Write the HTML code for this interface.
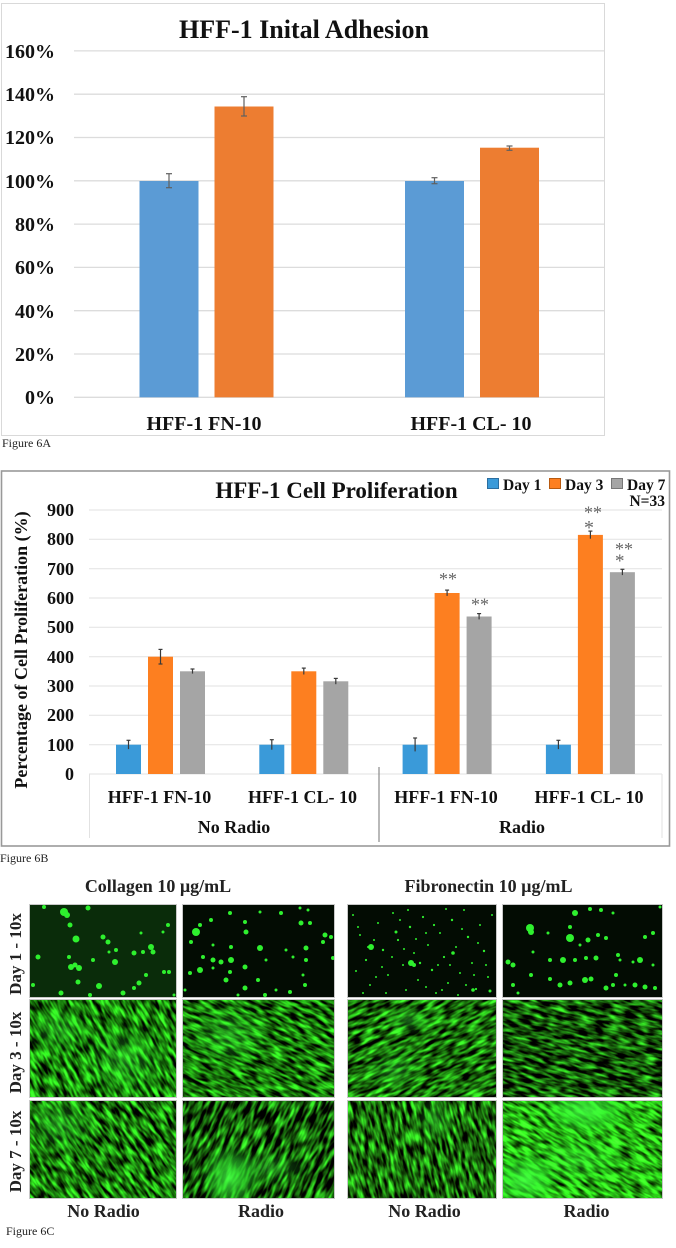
<!DOCTYPE html>
<html><head><meta charset="utf-8">
<style>
html,body{margin:0;padding:0;background:#fff;}
svg{display:block;}
text{font-family:"Liberation Serif",serif;}
.b{font-weight:bold;}
</style></head>
<body>
<svg width="676" height="1248" viewBox="0 0 676 1248" xmlns="http://www.w3.org/2000/svg">
<defs>
<filter id="f1" x="0" y="0" width="1" height="1" color-interpolation-filters="sRGB">
<feTurbulence type="fractalNoise" baseFrequency="0.07 0.26" numOctaves="2" seed="3"/>
<feColorMatrix type="matrix" values="0.5 0 0 0 -0.15  2.2 0 0 0 -0.6  0.4 0 0 0 -0.15  0 0 0 0 1"/>
</filter>
<filter id="f2" x="0" y="0" width="1" height="1" color-interpolation-filters="sRGB">
<feTurbulence type="fractalNoise" baseFrequency="0.07 0.26" numOctaves="2" seed="7"/>
<feColorMatrix type="matrix" values="0.5 0 0 0 -0.15  2.2 0 0 0 -0.63  0.4 0 0 0 -0.15  0 0 0 0 1"/>
</filter>
<filter id="f3" x="0" y="0" width="1" height="1" color-interpolation-filters="sRGB">
<feTurbulence type="fractalNoise" baseFrequency="0.07 0.24" numOctaves="2" seed="11"/>
<feColorMatrix type="matrix" values="0.5 0 0 0 -0.15  2.2 0 0 0 -0.67  0.4 0 0 0 -0.15  0 0 0 0 1"/>
</filter>
<filter id="f4" x="0" y="0" width="1" height="1" color-interpolation-filters="sRGB">
<feTurbulence type="fractalNoise" baseFrequency="0.07 0.26" numOctaves="2" seed="19"/>
<feColorMatrix type="matrix" values="0.5 0 0 0 -0.17  2.2 0 0 0 -0.77  0.4 0 0 0 -0.16  0 0 0 0 1"/>
</filter>
<filter id="f5" x="0" y="0" width="1" height="1" color-interpolation-filters="sRGB">
<feTurbulence type="fractalNoise" baseFrequency="0.07 0.26" numOctaves="2" seed="13"/>
<feColorMatrix type="matrix" values="0.5 0 0 0 -0.15  2.2 0 0 0 -0.63  0.4 0 0 0 -0.15  0 0 0 0 1"/>
</filter>
<filter id="f6" x="0" y="0" width="1" height="1" color-interpolation-filters="sRGB">
<feTurbulence type="fractalNoise" baseFrequency="0.06 0.24" numOctaves="2" seed="23"/>
<feColorMatrix type="matrix" values="0.5 0 0 0 -0.17  2.2 0 0 0 -0.76  0.4 0 0 0 -0.16  0 0 0 0 1"/>
</filter>
<filter id="f7" x="0" y="0" width="1" height="1" color-interpolation-filters="sRGB">
<feTurbulence type="fractalNoise" baseFrequency="0.07 0.26" numOctaves="2" seed="29"/>
<feColorMatrix type="matrix" values="0.5 0 0 0 -0.15  2.2 0 0 0 -0.69  0.4 0 0 0 -0.15  0 0 0 0 1"/>
</filter>
<filter id="f8" x="0" y="0" width="1" height="1" color-interpolation-filters="sRGB">
<feTurbulence type="fractalNoise" baseFrequency="0.07 0.26" numOctaves="2" seed="31"/>
<feColorMatrix type="matrix" values="0.5 0 0 0 -0.1  2.2 0 0 0 -0.4  0.4 0 0 0 -0.12  0 0 0 0 1"/>
</filter>
<radialGradient id="glow">
<stop offset="0" stop-color="#44ff44" stop-opacity="0.85"/>
<stop offset="0.6" stop-color="#33ee33" stop-opacity="0.45"/>
<stop offset="1" stop-color="#22cc22" stop-opacity="0"/>
</radialGradient>
<radialGradient id="glowS">
<stop offset="0" stop-color="#44ff44" stop-opacity="0.4"/>
<stop offset="1" stop-color="#22cc22" stop-opacity="0"/>
</radialGradient>
<clipPath id="c21"><rect x="30" y="1000" width="146" height="97"/></clipPath>
<clipPath id="c22"><rect x="183" y="1000" width="151" height="97"/></clipPath>
<clipPath id="c23"><rect x="348" y="1000" width="148" height="97"/></clipPath>
<clipPath id="c24"><rect x="503" y="1000" width="159" height="97"/></clipPath>
<clipPath id="c31"><rect x="30" y="1101" width="146" height="97"/></clipPath>
<clipPath id="c32"><rect x="183" y="1101" width="151" height="97"/></clipPath>
<clipPath id="c33"><rect x="348" y="1101" width="148" height="97"/></clipPath>
<clipPath id="c34"><rect x="503" y="1101" width="159" height="97"/></clipPath>
</defs>

<!-- ================= Figure 6A ================= -->
<rect x="1.5" y="3.5" width="603" height="432" fill="#fff" stroke="#d9d9d9" stroke-width="1"/>
<text x="304" y="38" text-anchor="middle" class="b" font-size="26" fill="#111">HFF-1 Inital Adhesion</text>
<g stroke="#dcdcdc" stroke-width="1.3">
<line x1="74" y1="50.9" x2="604" y2="50.9"/>
<line x1="74" y1="94.2" x2="604" y2="94.2"/>
<line x1="74" y1="137.5" x2="604" y2="137.5"/>
<line x1="74" y1="180.8" x2="604" y2="180.8"/>
<line x1="74" y1="224.1" x2="604" y2="224.1"/>
<line x1="74" y1="267.4" x2="604" y2="267.4"/>
<line x1="74" y1="310.7" x2="604" y2="310.7"/>
<line x1="74" y1="354" x2="604" y2="354"/>
<line x1="74" y1="397.3" x2="604" y2="397.3"/>
</g>
<g class="b" font-size="20" text-anchor="end" fill="#111">
<text x="55" y="58">160%</text>
<text x="55" y="101">140%</text>
<text x="55" y="144">120%</text>
<text x="55" y="188">100%</text>
<text x="55" y="231">80%</text>
<text x="55" y="274">60%</text>
<text x="55" y="318">40%</text>
<text x="55" y="361">20%</text>
<text x="55" y="404">0%</text>
</g>
<rect x="139.5" y="181" width="59" height="216.3" fill="#5b9bd5"/>
<rect x="214.5" y="106.5" width="59" height="290.8" fill="#ed7d31"/>
<rect x="405" y="181" width="59" height="216.3" fill="#5b9bd5"/>
<rect x="480" y="147.7" width="59" height="249.6" fill="#ed7d31"/>
<g stroke="#606060" stroke-width="1.2">
<line x1="169" y1="173.7" x2="169" y2="187.7"/><line x1="166" y1="173.7" x2="172" y2="173.7"/><line x1="166" y1="187.7" x2="172" y2="187.7"/>
<line x1="244" y1="96.7" x2="244" y2="116"/><line x1="241" y1="96.7" x2="247" y2="96.7"/><line x1="241" y1="116" x2="247" y2="116"/>
<line x1="434.5" y1="177.7" x2="434.5" y2="183.7"/><line x1="431.5" y1="177.7" x2="437.5" y2="177.7"/><line x1="431.5" y1="183.7" x2="437.5" y2="183.7"/>
<line x1="509.5" y1="146" x2="509.5" y2="150.3"/><line x1="506.5" y1="146" x2="512.5" y2="146"/><line x1="506.5" y1="150.3" x2="512.5" y2="150.3"/>
</g>
<g class="b" font-size="20" text-anchor="middle" fill="#111">
<text x="204" y="430">HFF-1 FN-10</text>
<text x="471" y="430">HFF-1 CL- 10</text>
</g>
<text x="2" y="447" font-size="12" fill="#222">Figure 6A</text>

<!-- ================= Figure 6B ================= -->
<rect x="1.5" y="471" width="668" height="375" fill="#fff" stroke="#999" stroke-width="1.6"/>
<text x="336.5" y="498" text-anchor="middle" class="b" font-size="23" fill="#111">HFF-1 Cell Proliferation</text>
<rect x="487.5" y="478.5" width="11" height="10" fill="#3a9ad9" stroke="#2b6ea0" stroke-width="1"/>
<text x="503" y="490" class="b" font-size="15.5" fill="#111">Day 1</text>
<rect x="549.5" y="478.5" width="11" height="10" fill="#fd7f20" stroke="#b85a10" stroke-width="1"/>
<text x="565" y="490" class="b" font-size="15.5" fill="#111">Day 3</text>
<rect x="611.5" y="478.5" width="11" height="10" fill="#a5a5a5" stroke="#777" stroke-width="1"/>
<text x="627" y="490" class="b" font-size="15.5" fill="#111">Day 7</text>
<text x="665" y="506" text-anchor="end" class="b" font-size="15.5" fill="#111">N=33</text>
<g stroke="#e2e2e2" stroke-width="1">
<line x1="89" y1="510" x2="662" y2="510"/>
<line x1="89" y1="539.3" x2="662" y2="539.3"/>
<line x1="89" y1="568.7" x2="662" y2="568.7"/>
<line x1="89" y1="598" x2="662" y2="598"/>
<line x1="89" y1="627.3" x2="662" y2="627.3"/>
<line x1="89" y1="656.7" x2="662" y2="656.7"/>
<line x1="89" y1="686" x2="662" y2="686"/>
<line x1="89" y1="715.3" x2="662" y2="715.3"/>
<line x1="89" y1="744.7" x2="662" y2="744.7"/>
<line x1="89" y1="774" x2="662" y2="774"/>
<line x1="89.5" y1="774" x2="89.5" y2="838"/>
<line x1="662" y1="774" x2="662" y2="838"/>
</g>
<line x1="379" y1="767" x2="379" y2="842" stroke="#8a8a8a" stroke-width="1.2"/>
<g class="b" font-size="18" text-anchor="end" fill="#111">
<text x="74" y="516">900</text>
<text x="74" y="545">800</text>
<text x="74" y="575">700</text>
<text x="74" y="604">600</text>
<text x="74" y="633">500</text>
<text x="74" y="663">400</text>
<text x="74" y="692">300</text>
<text x="74" y="721">200</text>
<text x="74" y="751">100</text>
<text x="74" y="780">0</text>
</g>
<text transform="translate(27,650) rotate(-90)" text-anchor="middle" class="b" font-size="18" fill="#111">Percentage of Cell Proliferation (%)</text>
<g fill="#3a9ad9">
<rect x="116" y="744.7" width="25" height="29.3"/>
<rect x="259.3" y="744.7" width="25" height="29.3"/>
<rect x="402.6" y="744.7" width="25" height="29.3"/>
<rect x="545.9" y="744.7" width="25" height="29.3"/>
</g>
<g fill="#fd7f20">
<rect x="148" y="656.7" width="25" height="117.3"/>
<rect x="291.3" y="671.3" width="25" height="102.7"/>
<rect x="434.6" y="593" width="25" height="181"/>
<rect x="577.9" y="534.9" width="25" height="239.1"/>
</g>
<g fill="#a5a5a5">
<rect x="180" y="671.3" width="25" height="102.7"/>
<rect x="323.3" y="681.3" width="25" height="92.7"/>
<rect x="466.6" y="616.5" width="25" height="157.5"/>
<rect x="609.9" y="572.2" width="25" height="201.8"/>
</g>
<g stroke="#3a3a3a" stroke-width="1.2">
<line x1="128.5" y1="740.3" x2="128.5" y2="749.1"/><line x1="126.5" y1="740.3" x2="130.5" y2="740.3"/>
<line x1="160.5" y1="649.4" x2="160.5" y2="664"/><line x1="158.5" y1="649.4" x2="162.5" y2="649.4"/><line x1="158.5" y1="664" x2="162.5" y2="664"/>
<line x1="192.5" y1="669" x2="192.5" y2="673.6"/><line x1="190.5" y1="669" x2="194.5" y2="669"/>
<line x1="271.8" y1="739.7" x2="271.8" y2="749.7"/><line x1="269.8" y1="739.7" x2="273.8" y2="739.7"/>
<line x1="303.8" y1="668.1" x2="303.8" y2="674.5"/><line x1="301.8" y1="668.1" x2="305.8" y2="668.1"/>
<line x1="335.8" y1="678.4" x2="335.8" y2="684.2"/><line x1="333.8" y1="678.4" x2="337.8" y2="678.4"/>
<line x1="415.1" y1="738" x2="415.1" y2="751.4"/><line x1="413.1" y1="738" x2="417.1" y2="738"/>
<line x1="447.1" y1="590.1" x2="447.1" y2="595.9"/><line x1="445.1" y1="590.1" x2="449.1" y2="590.1"/>
<line x1="479.1" y1="613.6" x2="479.1" y2="619.4"/><line x1="477.1" y1="613.6" x2="481.1" y2="613.6"/>
<line x1="558.4" y1="740.3" x2="558.4" y2="749.1"/><line x1="556.4" y1="740.3" x2="560.4" y2="740.3"/>
<line x1="590.4" y1="531.1" x2="590.4" y2="538.7"/><line x1="588.4" y1="531.1" x2="592.4" y2="531.1"/>
<line x1="622.4" y1="569.3" x2="622.4" y2="575.1"/><line x1="620.4" y1="569.3" x2="624.4" y2="569.3"/>
</g>
<g font-size="18" fill="#666">
<text x="439" y="585">**</text>
<text x="471" y="610.5">**</text>
<text x="584" y="518.5">**</text>
<text x="584" y="534" font-size="20">*</text>
<text x="615" y="555">**</text>
<text x="615" y="567" font-size="19">*</text>
</g>
<g class="b" font-size="18" text-anchor="middle" fill="#111">
<text x="159.5" y="803">HFF-1 FN-10</text>
<text x="302.5" y="803">HFF-1 CL- 10</text>
<text x="446" y="803">HFF-1 FN-10</text>
<text x="589" y="803">HFF-1 CL- 10</text>
<text x="234" y="833">No Radio</text>
<text x="522" y="833">Radio</text>
</g>
<text x="0" y="862" font-size="12" fill="#222">Figure 6B</text>

<!-- ================= Figure 6C ================= -->
<g class="b" font-size="18" text-anchor="middle" fill="#222">
<text x="158" y="892">Collagen 10 µg/mL</text>
<text x="488.5" y="892">Fibronectin 10 µg/mL</text>
</g>
<g class="b" font-size="17" text-anchor="middle" fill="#222">
<text transform="translate(21,954) rotate(-90)">Day 1 - 10x</text>
<text transform="translate(21,1052.5) rotate(-90)">Day 3 - 10x</text>
<text transform="translate(21,1151.5) rotate(-90)">Day 7 - 10x</text>
</g>

<!-- Row 1: Day 1 -->
<rect x="30" y="905" width="146" height="92" fill="#0a2c0a"/>
<g transform="translate(30,905)" fill="#2ef02e">
<circle cx="34" cy="7" r="4"/><circle cx="37" cy="10" r="3"/><circle cx="58" cy="3" r="2.5"/><circle cx="40" cy="20" r="2.5"/>
<circle cx="46" cy="34" r="3.5"/><circle cx="39" cy="52" r="2"/><circle cx="41" cy="62" r="3"/><circle cx="49" cy="63" r="3"/>
<circle cx="45" cy="60" r="2.5"/><circle cx="73" cy="32" r="2.5"/><circle cx="78" cy="37" r="2.5"/><circle cx="86" cy="45" r="2"/>
<circle cx="85" cy="57" r="3"/><circle cx="69" cy="81" r="3"/><circle cx="31" cy="88" r="2.5"/><circle cx="3" cy="80" r="2"/>
<circle cx="8" cy="52" r="2.5"/><circle cx="104" cy="48" r="2.5"/><circle cx="113" cy="47" r="2"/><circle cx="121" cy="42" r="3"/>
<circle cx="123" cy="47" r="2.5"/><circle cx="116" cy="70" r="2"/><circle cx="109" cy="78" r="2.5"/><circle cx="104" cy="83" r="2"/>
<circle cx="93" cy="88" r="2.5"/><circle cx="134" cy="67" r="2"/><circle cx="139" cy="67" r="2"/><circle cx="138" cy="20" r="2"/>
<circle cx="133" cy="27" r="1.5"/><circle cx="111" cy="28" r="1.5"/><circle cx="79" cy="47" r="1.5"/><circle cx="63" cy="55" r="2"/>
<circle cx="48" cy="77" r="2.5"/><circle cx="14" cy="2" r="2"/><circle cx="144" cy="90" r="1.5"/><circle cx="60" cy="90" r="2"/>
</g>
<rect x="183" y="905" width="151" height="92" fill="#030c03"/>
<g transform="translate(183,905)" fill="#2ef02e">
<circle cx="13" cy="27" r="4"/><circle cx="8" cy="37" r="2"/><circle cx="17" cy="20" r="2"/><circle cx="28" cy="15" r="2"/>
<circle cx="47" cy="8" r="2"/><circle cx="62" cy="17" r="2"/><circle cx="63" cy="27" r="2.5"/><circle cx="77" cy="7" r="1.5"/>
<circle cx="98" cy="8" r="2"/><circle cx="117" cy="3" r="1.5"/><circle cx="125" cy="5" r="1.5"/><circle cx="118" cy="18" r="2.5"/>
<circle cx="127" cy="18" r="2"/><circle cx="142" cy="30" r="2.5"/><circle cx="148" cy="32" r="2"/><circle cx="140" cy="37" r="2"/>
<circle cx="123" cy="43" r="2.5"/><circle cx="103" cy="45" r="1.5"/><circle cx="77" cy="43" r="3"/><circle cx="48" cy="42" r="2"/>
<circle cx="30" cy="40" r="1.5"/><circle cx="20" cy="52" r="2"/><circle cx="30" cy="55" r="2.5"/><circle cx="38" cy="57" r="2.5"/>
<circle cx="48" cy="55" r="3"/><circle cx="17" cy="65" r="3"/><circle cx="7" cy="68" r="2"/><circle cx="30" cy="63" r="1.5"/>
<circle cx="47" cy="67" r="2"/><circle cx="43" cy="75" r="2.5"/><circle cx="62" cy="83" r="2.5"/><circle cx="62" cy="62" r="2.5"/>
<circle cx="75" cy="75" r="2"/><circle cx="83" cy="55" r="1.5"/><circle cx="110" cy="52" r="1.5"/><circle cx="123" cy="55" r="2"/>
<circle cx="120" cy="70" r="1.5"/><circle cx="122" cy="80" r="2"/><circle cx="93" cy="85" r="1.5"/><circle cx="107" cy="87" r="2"/>
<circle cx="82" cy="90" r="2"/><circle cx="150" cy="53" r="2"/><circle cx="2" cy="85" r="1.5"/><circle cx="55" cy="90" r="1.5"/>
</g>
<rect x="348" y="905" width="148" height="92" fill="#030c03"/>
<g transform="translate(348,905)" fill="#2ef02e">
<circle cx="23" cy="42" r="3"/><circle cx="63" cy="58" r="3"/><circle cx="66" cy="60" r="2"/><circle cx="105" cy="48" r="1.8"/><circle cx="125" cy="85" r="1.8"/><circle cx="48" cy="27" r="1.5"/>
<circle cx="5" cy="10" r="1"/><circle cx="12" cy="30" r="1"/><circle cx="18" cy="55" r="1.1"/><circle cx="22" cy="80" r="1"/>
<circle cx="30" cy="18" r="1"/><circle cx="35" cy="45" r="1.2"/><circle cx="40" cy="70" r="1"/><circle cx="45" cy="8" r="1"/>
<circle cx="50" cy="35" r="1.1"/><circle cx="55" cy="60" r="1"/><circle cx="58" cy="85" r="1"/><circle cx="62" cy="22" r="1.2"/>
<circle cx="66" cy="48" r="1"/><circle cx="70" cy="75" r="1"/><circle cx="75" cy="12" r="1.1"/><circle cx="80" cy="40" r="1"/>
<circle cx="84" cy="65" r="1.2"/><circle cx="88" cy="88" r="1"/><circle cx="92" cy="28" r="1"/><circle cx="96" cy="52" r="1.1"/>
<circle cx="100" cy="78" r="1"/><circle cx="104" cy="15" r="1.2"/><circle cx="108" cy="42" r="1"/><circle cx="112" cy="68" r="1"/>
<circle cx="116" cy="5" r="1"/><circle cx="120" cy="32" r="1.2"/><circle cx="124" cy="58" r="1"/><circle cx="128" cy="84" r="1.1"/>
<circle cx="132" cy="20" r="1"/><circle cx="136" cy="46" r="1.2"/><circle cx="140" cy="72" r="1"/><circle cx="144" cy="10" r="1"/>
<circle cx="8" cy="66" r="1"/><circle cx="26" cy="35" r="1"/><circle cx="52" cy="15" r="1"/><circle cx="72" cy="58" r="1.2"/>
<circle cx="94" cy="85" r="1"/><circle cx="118" cy="80" r="1"/><circle cx="138" cy="60" r="1"/><circle cx="15" cy="88" r="1"/>
<circle cx="44" cy="52" r="1"/><circle cx="86" cy="20" r="1.1"/><circle cx="102" cy="60" r="1"/><circle cx="130" cy="38" r="1"/>
<circle cx="60" cy="5" r="1"/><circle cx="78" cy="28" r="1"/><circle cx="110" cy="90" r="1"/><circle cx="20" cy="42" r="1"/>
<circle cx="34" cy="62" r="1"/><circle cx="68" cy="34" r="1"/><circle cx="142" cy="86" r="1.5"/><circle cx="98" cy="4" r="1"/>
<circle cx="10" cy="22" r="1"/><circle cx="38" cy="88" r="1"/><circle cx="78" cy="82" r="1"/><circle cx="114" cy="24" r="1"/>
<circle cx="126" cy="70" r="1"/><circle cx="90" cy="60" r="1"/><circle cx="28" cy="72" r="1"/><circle cx="56" cy="44" r="1"/>
</g>
<rect x="503" y="905" width="159" height="92" fill="#030c03"/>
<g transform="translate(503,905)" fill="#2ef02e">
<circle cx="72" cy="8" r="3"/><circle cx="87" cy="4" r="2"/><circle cx="98" cy="5" r="2"/><circle cx="27" cy="23" r="4"/>
<circle cx="28" cy="27" r="3"/><circle cx="67" cy="22" r="2"/><circle cx="67" cy="33" r="4"/><circle cx="85" cy="35" r="2.5"/>
<circle cx="95" cy="30" r="2"/><circle cx="103" cy="33" r="2"/><circle cx="45" cy="28" r="1.5"/><circle cx="77" cy="40" r="1.5"/>
<circle cx="110" cy="8" r="1.5"/><circle cx="150" cy="28" r="2"/><circle cx="142" cy="32" r="2"/><circle cx="5" cy="57" r="2.5"/>
<circle cx="10" cy="60" r="2.5"/><circle cx="30" cy="47" r="1.5"/><circle cx="47" cy="55" r="2"/><circle cx="60" cy="55" r="3"/>
<circle cx="72" cy="55" r="2"/><circle cx="83" cy="53" r="2"/><circle cx="93" cy="53" r="2.5"/><circle cx="115" cy="50" r="2"/>
<circle cx="117" cy="55" r="1.5"/><circle cx="130" cy="57" r="1.5"/><circle cx="137" cy="55" r="3"/><circle cx="150" cy="60" r="1.5"/>
<circle cx="28" cy="70" r="2"/><circle cx="47" cy="74" r="2"/><circle cx="57" cy="80" r="2.5"/><circle cx="67" cy="78" r="2.5"/>
<circle cx="82" cy="75" r="3"/><circle cx="88" cy="74" r="2.5"/><circle cx="103" cy="83" r="2.5"/><circle cx="110" cy="80" r="2"/>
<circle cx="113" cy="70" r="2"/><circle cx="122" cy="80" r="1.5"/><circle cx="132" cy="80" r="2.5"/><circle cx="142" cy="82" r="2.5"/>
<circle cx="152" cy="83" r="2"/><circle cx="10" cy="80" r="2"/><circle cx="157" cy="2" r="1.5"/><circle cx="15" cy="88" r="1.5"/>
</g>

<!-- Row 2: Day 3 -->
<g clip-path="url(#c21)">
<g transform="rotate(60 103 1048)"><rect x="3" y="948" width="200" height="200" filter="url(#f1)"/></g>
<ellipse cx="125" cy="1060" rx="45" ry="40" fill="url(#glowS)"/>
<ellipse cx="60" cy="1030" rx="35" ry="25" fill="url(#glowS)"/>
</g>
<g clip-path="url(#c22)">
<g transform="rotate(25 258 1048)"><rect x="158" y="948" width="200" height="200" filter="url(#f2)"/></g>
<ellipse cx="230" cy="1035" rx="45" ry="35" fill="url(#glowS)"/>
</g>
<g clip-path="url(#c23)">
<g transform="rotate(-25 422 1048)"><rect x="322" y="948" width="200" height="200" filter="url(#f3)"/></g>
<ellipse cx="395" cy="1070" rx="30" ry="22" fill="url(#glowS)"/>
<ellipse cx="410" cy="1020" rx="25" ry="15" fill="url(#glowS)"/>
</g>
<g clip-path="url(#c24)">
<g transform="rotate(15 582 1048)"><rect x="482" y="948" width="200" height="200" filter="url(#f4)"/></g>
</g>

<!-- Row 3: Day 7 -->
<g clip-path="url(#c31)">
<g transform="rotate(55 103 1150)"><rect x="3" y="1050" width="200" height="200" filter="url(#f5)"/></g>
<ellipse cx="60" cy="1125" rx="40" ry="30" fill="url(#glowS)"/>
</g>
<g clip-path="url(#c32)">
<g transform="rotate(-65 258 1150)"><rect x="158" y="1050" width="200" height="200" filter="url(#f6)"/></g>
<ellipse cx="230" cy="1178" rx="30" ry="34" fill="url(#glow)"/>
<ellipse cx="268" cy="1168" rx="45" ry="18" fill="url(#glowS)"/>
</g>
<g clip-path="url(#c33)">
<g transform="rotate(75 422 1150)"><rect x="322" y="1050" width="200" height="200" filter="url(#f7)"/></g>
<ellipse cx="435" cy="1120" rx="20" ry="25" fill="url(#glowS)"/>
</g>
<g clip-path="url(#c34)">
<g transform="rotate(30 582 1150)"><rect x="482" y="1050" width="200" height="200" filter="url(#f8)"/></g>
<ellipse cx="585" cy="1110" rx="48" ry="26" fill="url(#glow)"/>
<ellipse cx="580" cy="1160" rx="55" ry="28" fill="url(#glowS)"/>
<ellipse cx="525" cy="1180" rx="35" ry="28" fill="url(#glow)"/>
</g>

<g fill="none" stroke="#c8c8c8" stroke-width="1">
<rect x="29.5" y="904.5" width="147" height="93"/>
<rect x="182.5" y="904.5" width="152" height="93"/>
<rect x="347.5" y="904.5" width="149" height="93"/>
<rect x="502.5" y="904.5" width="160" height="93"/>
<rect x="29.5" y="999.5" width="147" height="98"/>
<rect x="182.5" y="999.5" width="152" height="98"/>
<rect x="347.5" y="999.5" width="149" height="98"/>
<rect x="502.5" y="999.5" width="160" height="98"/>
<rect x="29.5" y="1100.5" width="147" height="98"/>
<rect x="182.5" y="1100.5" width="152" height="98"/>
<rect x="347.5" y="1100.5" width="149" height="98"/>
<rect x="502.5" y="1100.5" width="160" height="98"/>
</g>

<g class="b" font-size="18" text-anchor="middle" fill="#222">
<text x="103.5" y="1217">No Radio</text>
<text x="261" y="1217">Radio</text>
<text x="424.5" y="1217">No Radio</text>
<text x="586.5" y="1217">Radio</text>
</g>
<text x="6" y="1235" font-size="12" fill="#222">Figure 6C</text>
</svg>
</body></html>
